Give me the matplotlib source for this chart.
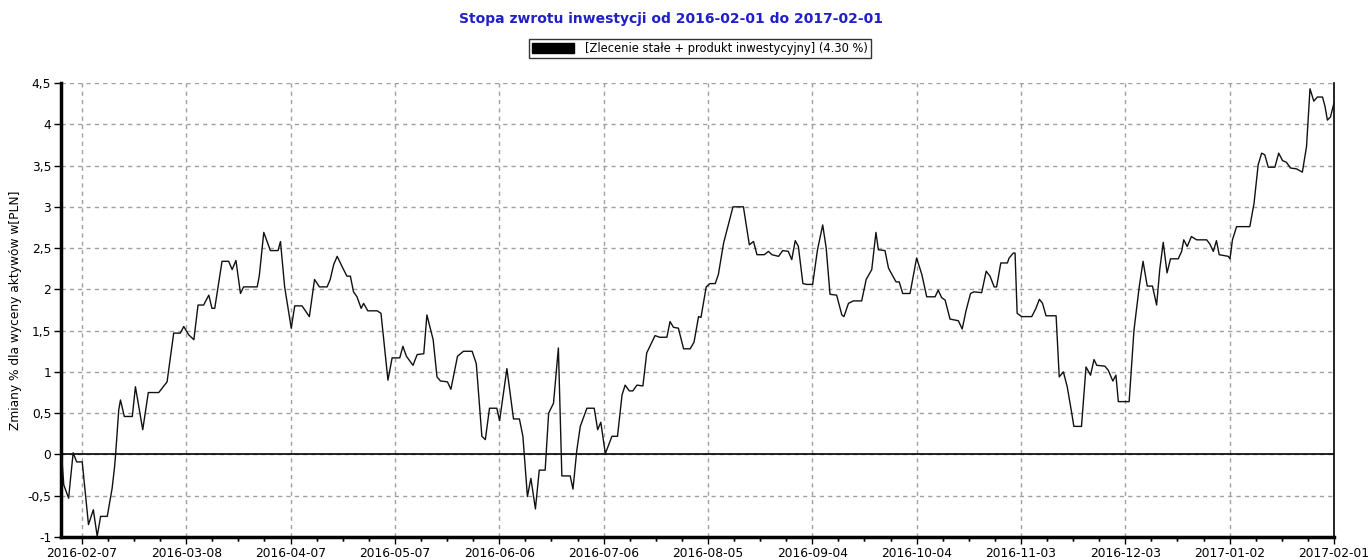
import matplotlib
matplotlib.use("Agg")
import matplotlib.pyplot as plt
import matplotlib.dates as mdates
from matplotlib.patches import Patch
from matplotlib.ticker import FixedLocator, FuncFormatter
import pandas as pd
import numpy as np

# ---- data ----
start_date = "2016-02-01"
end_date = "2017-02-01"
day_offsets = [0.0, 0.3, 0.8, 2.2, 2.7, 3.5, 4.5, 6.1, 7.9, 9.3, 10.4, 11.4, 13.3, 14.7, 15.4, 15.7,
               16.6, 17.1, 18.2, 20.5, 21.4, 23.5, 25.1, 28.1, 30.5, 32.0, 32.4, 34.3, 35.3, 36.7,
               38.2, 39.4, 41.0, 42.5, 43.4, 44.2, 46.3, 48.2, 49.2, 50.3, 51.6, 52.5, 56.4, 57.0,
               58.3, 60.2, 62.4, 63.1, 64.3, 66.2, 67.2, 69.3, 71.4, 72.9, 74.3, 76.5, 77.4, 78.4,
               79.4, 81.0, 82.2, 83.2, 84.1, 85.1, 86.3, 87.0, 88.2, 90.9, 92.0, 94.0, 95.2, 97.4,
               98.3, 99.3, 101.2, 102.4, 104.3, 105.2, 107.0, 108.1, 109.1, 111.1, 112.1, 114.0,
               115.7, 118.2, 119.4, 121.0, 122.0, 123.2, 125.3, 126.1, 128.2, 130.1, 131.8, 132.8,
               134.1, 135.1, 136.4, 137.5, 139.2, 140.2, 141.6, 143.0, 144.0, 146.4, 147.2, 148.3,
               149.3, 151.2, 153.3, 154.3, 155.2, 156.5, 158.4, 160.0, 161.3, 162.2, 163.4, 164.4,
               165.6, 167.3, 168.4, 170.8, 172.1, 174.2, 175.1, 176.1, 177.5, 179.0, 180.9, 182.0,
               183.3, 184.0, 185.5, 186.6, 188.1, 189.0, 190.5, 193.2, 196.2, 197.9, 199.1, 200.1,
               202.2, 203.4, 204.4, 206.3, 207.5, 209.1, 210.1, 211.1, 212.0, 213.3, 214.4, 216.1,
               217.5, 219.0, 220.0, 221.1, 223.0, 224.5, 225.1, 226.4, 227.8, 230.2, 231.5, 233.1,
               234.3, 235.0, 236.9, 237.9, 238.9, 240.1, 241.0, 242.0, 244.1, 246.0, 247.5, 248.9,
               251.3, 252.2, 253.2, 254.2, 255.6, 258.0, 259.1, 260.2, 261.5, 262.5, 264.7, 266.0,
               267.1, 268.3, 269.0, 270.2, 272.1, 272.6, 273.8, 274.3, 274.9, 276.2, 279.1, 280.3,
               281.3, 282.2, 283.2, 286.1, 287.0, 288.2, 289.3, 290.6, 291.2, 293.4, 294.7, 296.0,
               297.0, 297.8, 300.1, 301.1, 302.4, 303.3, 304.0, 307.1, 308.5, 310.0, 311.1, 312.3,
               313.8, 315.0, 315.9, 316.9, 318.0, 319.0, 321.2, 322.2, 322.8, 323.8, 325.0, 326.5,
               329.4, 330.3, 331.3, 332.2, 333.0, 335.6, 336.1, 336.8, 338.0, 341.8, 343.0, 344.2,
               345.2, 346.1, 347.1, 349.0, 350.1, 351.2, 352.3, 353.5, 355.2, 356.9, 358.1, 359.1,
               360.2, 361.2, 362.7, 363.4, 364.1, 365.0, 366.0]
returns_pct = [0.00, -0.08, -0.37, -0.53, -0.31, 0.02, -0.09, -0.09, -0.85, -0.67, -0.99, -0.75, -0.75, -0.41, -0.15, 0.00,
               0.54, 0.66, 0.46, 0.46, 0.82, 0.30, 0.75, 0.75, 0.88, 1.35, 1.47, 1.47, 1.55, 1.45,
               1.39, 1.81, 1.81, 1.93, 1.77, 1.77, 2.34, 2.34, 2.24, 2.35, 1.95, 2.03, 2.03, 2.16,
               2.69, 2.47, 2.47, 2.58, 2.03, 1.53, 1.80, 1.80, 1.67, 2.12, 2.03, 2.03, 2.12, 2.30,
               2.40, 2.26, 2.16, 2.16, 1.97, 1.91, 1.77, 1.83, 1.74, 1.74, 1.71, 0.90, 1.17, 1.17,
               1.31, 1.19, 1.08, 1.21, 1.22, 1.69, 1.39, 0.94, 0.89, 0.88, 0.79, 1.19,
               1.25, 1.25, 1.10, 0.22, 0.18, 0.56, 0.56, 0.41, 1.04, 0.43, 0.43, 0.22,
               -0.51, -0.29, -0.66, -0.19, -0.19, 0.50, 0.62, 1.29, -0.26, -0.26, -0.42, 0.05,
               0.34, 0.56, 0.56, 0.30, 0.39, 0.01, 0.22, 0.22, 0.72, 0.84, 0.77, 0.77,
               0.84, 0.83, 1.23, 1.44, 1.42, 1.42, 1.61, 1.54, 1.53, 1.28, 1.28, 1.36,
               1.67, 1.66, 2.03, 2.07, 2.07, 2.18, 2.56, 3.00, 3.00, 2.54, 2.58, 2.42,
               2.42, 2.46, 2.42, 2.40, 2.47, 2.46, 2.36, 2.59, 2.52, 2.07, 2.06, 2.06,
               2.48, 2.78, 2.50, 1.94, 1.93, 1.69, 1.67, 1.83, 1.86, 1.86, 2.12, 2.24,
               2.69, 2.48, 2.47, 2.26, 2.18, 2.09, 2.09, 1.95, 1.95, 2.38, 2.18, 1.91,
               1.91, 1.99, 1.90, 1.87, 1.64, 1.62, 1.52, 1.74, 1.95, 1.97, 1.96, 2.22,
               2.16, 2.03, 2.03, 2.32, 2.32, 2.38, 2.44, 2.44, 1.71, 1.67, 1.67, 1.77,
               1.88, 1.83, 1.68, 1.68, 0.94, 1.00, 0.82, 0.50, 0.34, 0.34, 1.06, 0.96,
               1.15, 1.08, 1.07, 1.02, 0.89, 0.96, 0.64, 0.64, 1.51, 2.03, 2.34, 2.04,
               2.04, 1.81, 2.24, 2.57, 2.20, 2.37, 2.37, 2.46, 2.60, 2.52, 2.64, 2.60,
               2.60, 2.55, 2.46, 2.59, 2.42, 2.40, 2.37, 2.60, 2.76, 2.76, 3.04, 3.51,
               3.65, 3.63, 3.48, 3.48, 3.65, 3.56, 3.54, 3.47, 3.46, 3.42, 3.73, 4.43,
               4.28, 4.33, 4.33, 4.22, 4.05, 4.09, 4.26]
x_tick_labels = ["2016-02-07", "2016-03-08", "2016-04-07", "2016-05-07", "2016-06-06",
                 "2016-07-06", "2016-08-05", "2016-09-04", "2016-10-04", "2016-11-03",
                 "2016-12-03", "2017-01-02", "2017-02-01"]
y_ticks = [-1, -0.5, 0, 0.5, 1, 1.5, 2, 2.5, 3, 3.5, 4, 4.5]
series_label = "[Zlecenie stałe + produkt inwestycyjny] (4.30 %)"
title = "Stopa zwrotu inwestycji od 2016-02-01 do 2017-02-01"
y_label = "Zmiany % dla wyceny aktywów w[PLN]"

dates = pd.Timestamp(start_date) + pd.to_timedelta(day_offsets, unit="D")

plt.rcParams['font.family'] = ['DejaVu Sans']
fig = plt.figure(figsize=(13.7, 5.6), dpi=100)
ax = fig.add_axes([61/1370, 23/560, (1334-61)/1370, (537-83)/560])

ax.plot(dates, returns_pct, color="#111111", lw=1.0, zorder=3)
ax.axhline(0, color="black", lw=1.2, zorder=2)

ax.set_xlim(pd.Timestamp(start_date), pd.Timestamp(end_date))
ax.set_ylim(-1, 4.5)

major_dates = [mdates.date2num(pd.Timestamp(d)) for d in x_tick_labels]
ax.xaxis.set_major_locator(FixedLocator(major_dates))
ax.xaxis.set_major_formatter(FuncFormatter(lambda v, p: mdates.num2date(v).strftime("%Y-%m-%d")))
minor = []
for d in major_dates:
    for k in (-3, -2, -1, 1, 2, 3):
        minor.append(d + k * 7.5)
ax.xaxis.set_minor_locator(FixedLocator(minor))

ax.set_yticks(y_ticks)
ax.yaxis.set_major_formatter(FuncFormatter(lambda v, p: ("%g" % v).replace(".", ",")))

ax.grid(True, which="major", color="#a0a0a0", linestyle=(0, (3, 3)), lw=1.0)
ax.tick_params(axis="both", which="major", labelsize=8.8, length=5, width=1, color="black", pad=2)
ax.tick_params(axis="x", which="minor", length=3, width=1)

for side in ("left", "bottom"):
    ax.spines[side].set_linewidth(2.5)
ax.spines["right"].set_linewidth(1.2)
ax.spines["top"].set_visible(False)

ax.set_ylabel(y_label, fontsize=8.8, labelpad=4)

fig.text(671/1370, 1 - 19/560, title, ha="center", va="center", fontsize=10, fontweight="bold", color="#2020C8")

handle = Patch(facecolor="black", edgecolor="black")
leg = fig.legend([handle], [series_label], loc="center", bbox_to_anchor=(700/1370, 1 - 48.5/560),
                 fontsize=8.3, frameon=True, fancybox=False, edgecolor="black",
                 handlelength=3.6, handleheight=0.9, borderpad=0.25, handletextpad=1.0)
leg.get_frame().set_linewidth(1.0)

fig.savefig("out.png", dpi=100)
